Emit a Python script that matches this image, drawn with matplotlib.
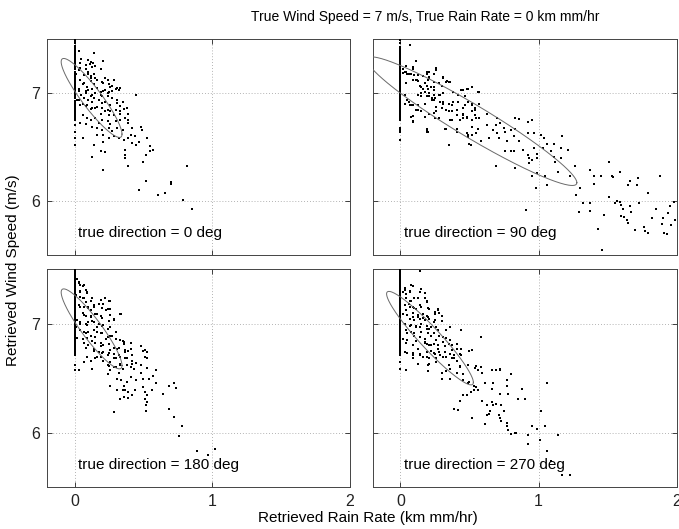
import numpy as np
import matplotlib
matplotlib.use("Agg")
import matplotlib.pyplot as plt

plt.rcParams['font.family'] = ['Liberation Sans', 'DejaVu Sans']

# ---------------- data ----------------
titles = ["true direction = 0 deg", "true direction = 90 deg",
          "true direction = 180 deg", "true direction = 270 deg"]

# retrievals with zero rain rate (x = 0)
p1_zero_y = [7.49, 7.475, 7.46, 7.44, 7.43, 7.41, 7.395, 7.38, 7.36, 7.35, 7.33, 7.315, 7.30, 7.28,
             7.27, 7.25, 7.235, 7.22, 7.20, 7.19, 7.17, 7.155, 7.14, 7.12, 7.11, 7.09, 7.075, 7.06,
             7.04, 7.03, 7.01, 6.995, 6.98, 6.96, 6.95, 6.93, 6.915, 6.90, 6.88, 6.87, 6.85, 6.835,
             6.82, 6.80, 6.79, 6.77, 6.755, 6.70, 6.64, 6.58, 6.52]
p2_zero_y = [7.49, 7.46, 7.43, 7.41, 7.395, 7.38, 7.365, 7.35, 7.335, 7.32, 7.30, 7.29, 7.27, 7.26,
             7.245, 7.23, 7.215, 7.20, 7.185, 7.17, 7.155, 7.14, 7.125, 7.11, 7.095, 7.08, 7.065,
             7.05, 7.035, 7.02, 7.005, 6.99, 6.975, 6.96, 6.945, 6.93, 6.915, 6.90, 6.885, 6.87,
             6.855, 6.84, 6.825, 6.81, 6.795, 6.78, 6.765, 6.75, 6.68, 6.66, 6.64, 6.57]
p3_zero_y = [7.50, 7.485, 7.47, 7.455, 7.44, 7.425, 7.41, 7.395, 7.38, 7.365, 7.35, 7.335, 7.32,
             7.305, 7.29, 7.275, 7.26, 7.245, 7.23, 7.215, 7.20, 7.185, 7.17, 7.155, 7.14, 7.125,
             7.11, 7.095, 7.08, 7.065, 7.05, 7.035, 7.02, 7.005, 6.99, 6.975, 6.96, 6.945, 6.93,
             6.915, 6.90, 6.885, 6.87, 6.855, 6.84, 6.825, 6.81, 6.795, 6.78, 6.765, 6.75, 6.735,
             6.72, 6.71, 6.62, 6.57]
p4_zero_y = [7.50, 7.485, 7.47, 7.455, 7.44, 7.425, 7.41, 7.395, 7.38, 7.365, 7.35, 7.335, 7.32,
             7.305, 7.29, 7.275, 7.26, 7.245, 7.23, 7.215, 7.20, 7.185, 7.17, 7.155, 7.14, 7.125,
             7.11, 7.095, 7.08, 7.065, 7.05, 7.035, 7.02, 7.005, 6.99, 6.975, 6.96, 6.945, 6.93,
             6.915, 6.90, 6.885, 6.87, 6.855, 6.84, 6.825, 6.81, 6.795, 6.78, 6.765, 6.75, 6.735,
             6.72, 6.71, 6.65, 6.58]

# retrievals with non-zero rain rate: (rain rate, wind speed)
p1_rain = [0.03, 0.14, 0.12, 0.135, 0.21, 0.04, 0.04, 0.08, 0.10, 0.07, 0.12, 0.15, 0.22, 0.24, 0.29,
           0.25, 0.26, 0.21, 0.12, 0.14, 0.16, 0.06, 0.03, 0.08, 0.10, 0.13, 0.15, 0.19, 0.21, 0.24,
           0.27, 0.31, 0.33, 0.45, 0.03, 0.07, 0.10, 0.13, 0.18, 0.20, 0.22, 0.26, 0.31, 0.33, 0.36,
           0.38, 0.04, 0.08, 0.12, 0.15, 0.19, 0.22, 0.25, 0.29, 0.33, 0.06, 0.09, 0.12, 0.15, 0.18,
           0.20, 0.24, 0.26, 0.30, 0.33, 0.37, 0.39, 0.04, 0.08, 0.13, 0.16, 0.20, 0.25, 0.27, 0.31,
           0.35, 0.39, 0.42, 0.48, 0.49, 0.06, 0.16, 0.21, 0.25, 0.29, 0.32, 0.36, 0.39, 0.41, 0.44,
           0.47, 0.53, 0.42, 0.45, 0.55, 0.14, 0.21, 0.37, 0.55, 0.57, 0.52, 0.50, 0.13, 0.19, 0.22,
           0.37, 0.37, 0.39, 0.21, 0.82, 0.52, 0.70, 0.70, 0.47, 0.61, 0.66, 0.79, 0.85]
p1_wind = [7.39, 7.37, 7.29, 7.28, 7.30, 7.28, 7.23, 7.22, 7.20, 7.17, 7.16, 7.14, 7.14, 7.12, 7.12,
           7.08, 7.06, 7.09, 7.11, 7.08, 7.05, 7.08, 7.02, 7.02, 7.03, 6.98, 7.00, 6.98, 7.02, 7.00,
           7.02, 7.05, 7.05, 6.98, 6.94, 6.95, 6.94, 6.92, 6.94, 6.91, 6.92, 6.89, 6.91, 6.88, 6.85,
           6.86, 6.89, 6.88, 6.85, 6.86, 6.81, 6.83, 6.80, 6.80, 6.81, 6.80, 6.77, 6.75, 6.77, 6.72,
           6.75, 6.74, 6.71, 6.74, 6.75, 6.77, 6.75, 6.72, 6.71, 6.69, 6.68, 6.66, 6.68, 6.65, 6.68,
           6.66, 6.72, 6.68, 6.69, 6.66, 6.58, 6.61, 6.61, 6.58, 6.60, 6.58, 6.57, 6.58, 6.61, 6.60,
           6.55, 6.58, 6.54, 6.52, 6.51, 6.52, 6.55, 6.47, 6.46, 6.47, 6.43, 6.36, 6.41, 6.46, 6.45,
           6.43, 6.40, 6.32, 6.29, 6.32, 6.19, 6.18, 6.16, 6.10, 6.06, 6.07, 6.01, 5.93]
p1_rain_b = [0.05, 0.10, 0.11, 0.08, 0.13, 0.15, 0.19, 0.03, 0.01, 0.10, 0.14, 0.12, 0.16, 0.20,
             0.27, 0.04, 0.07, 0.09, 0.13, 0.19, 0.22, 0.25, 0.30, 0.32, 0.03, 0.05, 0.08, 0.12,
             0.14, 0.18, 0.20, 0.24, 0.27, 0.31, 0.35, 0.02, 0.06, 0.09, 0.13, 0.16, 0.20, 0.24,
             0.26, 0.30, 0.33, 0.38, 0.39]
p1_wind_b = [7.32, 7.31, 7.27, 7.26, 7.24, 7.25, 7.22, 7.21, 7.18, 7.18, 7.18, 7.14, 7.12, 7.10,
             7.07, 7.12, 7.09, 7.06, 7.04, 7.01, 7.03, 7.01, 7.04, 7.03, 7.04, 6.98, 7.00, 6.97,
             6.95, 6.94, 6.97, 6.97, 6.95, 6.94, 6.92, 6.94, 6.90, 6.89, 6.86, 6.87, 6.86, 6.84,
             6.83, 6.84, 6.83, 6.86, 6.81]

p2_rain = [0.07, 0.11, 0.04, 0.09, 0.04, 0.02, 0.10, 0.05, 0.19, 0.21, 0.26, 0.16, 0.12, 0.09, 0.21,
           0.24, 0.20, 0.31, 0.33, 0.35, 0.30, 0.14, 0.19, 0.22, 0.16, 0.24, 0.18, 0.21, 0.13, 0.44,
           0.48, 0.52, 0.56, 0.15, 0.21, 0.25, 0.28, 0.42, 0.47, 0.05, 0.03, 0.07, 0.09, 0.24, 0.31,
           0.35, 0.38, 0.49, 0.57, 0.13, 0.26, 0.33, 0.37, 0.45, 0.52, 0.54, 0.41, 0.45, 0.54, 0.63,
           0.09, 0.09, 0.24, 0.28, 0.36, 0.43, 0.48, 0.52, 0.55, 0.70, 0.83, 0.86, 0.95, 0.19, 0.19,
           0.33, 0.41, 0.52, 0.56, 0.63, 0.69, 0.72, 0.75, 0.67, 0.70, 0.76, 0.80, 0.83, 0.92, 0.49,
           0.49, 0.50, 0.35, 0.55, 0.58, 0.64, 0.71, 0.77, 0.82, 0.86, 0.92, 0.97, 1.02, 1.04, 0.76,
           0.80, 0.82, 0.89, 0.97, 0.99, 1.03, 1.09, 1.16, 1.17, 1.11, 1.06, 0.69, 0.83, 0.92, 0.93,
           0.95, 0.99, 0.93, 0.95, 0.98, 1.05, 1.06, 1.11, 1.12, 1.14, 1.16, 1.21, 1.23, 1.26, 1.30,
           1.27, 1.29, 1.32, 1.37, 1.37, 1.37, 1.40, 1.40, 1.43, 1.45, 1.47, 1.46, 1.51, 1.53, 1.54,
           1.51, 1.55, 1.57, 1.59, 1.60, 1.59, 1.61, 1.60, 1.62, 1.64, 1.65, 1.65, 1.66, 1.66, 1.67,
           1.70, 1.71, 1.72, 1.73, 1.76, 1.77, 1.79, 1.79, 1.82, 1.85, 1.88, 1.89, 1.90, 1.91, 1.93,
           1.94, 1.95, 1.96, 1.98, 1.99, 0.91, 0.99]
p2_wind = [7.45, 7.30, 7.25, 7.22, 7.20, 7.19, 7.17, 7.18, 7.18, 7.20, 7.21, 7.16, 7.12, 7.12, 7.14,
           7.10, 7.12, 7.14, 7.10, 7.10, 7.07, 7.07, 7.07, 7.06, 7.04, 7.03, 7.01, 7.00, 6.98, 7.03,
           7.04, 7.06, 7.01, 6.97, 6.97, 6.95, 6.98, 6.98, 6.97, 6.94, 6.90, 6.89, 6.89, 6.94, 6.92,
           6.90, 6.92, 6.92, 6.90, 6.84, 6.87, 6.84, 6.83, 6.86, 6.89, 6.84, 6.80, 6.80, 6.80, 6.81,
           6.79, 6.73, 6.82, 6.77, 6.75, 6.75, 6.77, 6.75, 6.77, 6.77, 6.77, 6.76, 6.75, 6.67, 6.64,
           6.67, 6.67, 6.69, 6.67, 6.70, 6.70, 6.72, 6.68, 6.66, 6.63, 6.64, 6.66, 6.67, 6.73, 6.61,
           6.59, 6.53, 6.52, 6.63, 6.56, 6.58, 6.58, 6.56, 6.60, 6.56, 6.63, 6.63, 6.61, 6.58, 6.46,
           6.46, 6.46, 6.47, 6.49, 6.44, 6.49, 6.46, 6.49, 6.60, 6.53, 6.53, 6.32, 6.31, 6.43, 6.40,
           6.38, 6.40, 6.35, 6.23, 6.12, 6.23, 6.15, 6.41, 6.36, 6.27, 6.40, 6.47, 6.23, 6.32, 6.12,
           6.06, 5.90, 5.98, 6.29, 5.98, 5.91, 6.23, 6.16, 5.74, 6.23, 5.87, 5.55, 6.36, 6.23, 6.22,
           6.04, 5.98, 6.00, 5.99, 5.96, 6.27, 5.93, 5.86, 5.85, 5.82, 5.80, 6.15, 6.19, 5.95, 5.90,
           5.73, 6.15, 6.21, 5.98, 5.76, 5.72, 5.70, 6.07, 5.84, 5.93, 6.23, 5.79, 5.84, 5.70, 5.69,
           5.89, 5.95, 5.78, 5.99, 5.82, 5.92, 6.26]
p2_rain_b = [0.09, 0.03, 0.06, 0.02, 0.08, 0.13, 0.19, 0.24, 0.21, 0.26, 0.11, 0.04, 0.13, 0.18,
             0.15, 0.20, 0.24, 0.28, 0.31, 0.34, 0.36, 0.15, 0.18, 0.21, 0.24, 0.19, 0.23, 0.29,
             0.31, 0.38, 0.45, 0.49, 0.57, 0.03, 0.06, 0.08, 0.13, 0.18, 0.23, 0.29, 0.31, 0.37,
             0.42, 0.47, 0.52, 0.54, 0.11, 0.15, 0.21, 0.26, 0.30, 0.35, 0.41, 0.45, 0.52, 0.08,
             0.18, 0.25, 0.37, 0.45, 0.48, 0.57, 0.09, 0.19, 0.20, 0.32, 0.41, 0.48, 0.52, 0.35,
             0.51]
p2_wind_b = [7.24, 7.20, 7.18, 7.22, 7.18, 7.17, 7.20, 7.18, 7.15, 7.23, 7.12, 7.09, 7.11, 7.09,
             7.06, 7.04, 7.06, 7.09, 7.15, 7.11, 7.10, 7.00, 7.01, 7.00, 6.98, 6.97, 6.95, 6.98,
             7.00, 7.01, 7.03, 7.04, 7.01, 6.98, 6.92, 6.89, 6.89, 6.90, 6.94, 6.92, 6.90, 6.89,
             6.92, 6.89, 6.90, 6.86, 6.84, 6.83, 6.81, 6.83, 6.86, 6.83, 6.84, 6.81, 6.83, 6.78,
             6.78, 6.77, 6.75, 6.77, 6.78, 6.77, 6.74, 6.66, 6.64, 6.67, 6.64, 6.63, 6.61, 6.52,
             6.52]

p3_rain = [0.02, 0.03, 0.04, 0.06, 0.08, 0.09, 0.04, 0.01, 0.04, 0.07, 0.13, 0.19, 0.22, 0.26, 0.14,
           0.18, 0.20, 0.24, 0.26, 0.03, 0.07, 0.10, 0.12, 0.06, 0.08, 0.12, 0.15, 0.19, 0.29, 0.34,
           0.02, 0.04, 0.08, 0.10, 0.14, 0.18, 0.20, 0.24, 0.26, 0.01, 0.04, 0.07, 0.10, 0.14, 0.16,
           0.20, 0.24, 0.27, 0.30, 0.02, 0.06, 0.09, 0.13, 0.15, 0.19, 0.21, 0.25, 0.29, 0.32, 0.35,
           0.36, 0.41, 0.48, 0.50, 0.53, 0.08, 0.10, 0.14, 0.18, 0.20, 0.25, 0.29, 0.32, 0.37, 0.39,
           0.42, 0.51, 0.07, 0.12, 0.16, 0.21, 0.26, 0.30, 0.33, 0.37, 0.38, 0.42, 0.45, 0.03, 0.13,
           0.24, 0.26, 0.30, 0.32, 0.35, 0.43, 0.48, 0.53, 0.59, 0.25, 0.31, 0.34, 0.38, 0.41, 0.45,
           0.50, 0.54, 0.57, 0.59, 0.26, 0.36, 0.31, 0.35, 0.37, 0.39, 0.44, 0.50, 0.51, 0.53, 0.56,
           0.64, 0.69, 0.72, 0.74, 0.33, 0.36, 0.39, 0.42, 0.51, 0.53, 0.52, 0.52, 0.29, 0.69, 0.72,
           0.78, 0.76, 0.89, 0.97, 1.02]
p3_wind = [7.41, 7.38, 7.35, 7.34, 7.31, 7.29, 7.30, 7.26, 7.24, 7.23, 7.23, 7.22, 7.23, 7.21, 7.17,
           7.18, 7.14, 7.13, 7.13, 7.17, 7.15, 7.15, 7.12, 7.10, 7.07, 7.07, 7.09, 7.07, 7.04, 7.09,
           7.03, 7.01, 7.00, 7.01, 7.01, 7.00, 6.98, 6.95, 6.97, 6.97, 6.94, 6.92, 6.92, 6.94, 6.92,
           6.91, 6.88, 6.89, 6.86, 6.87, 6.86, 6.87, 6.84, 6.82, 6.82, 6.80, 6.81, 6.78, 6.78, 6.84,
           6.81, 6.82, 6.79, 6.75, 6.74, 6.78, 6.80, 6.75, 6.74, 6.73, 6.73, 6.72, 6.71, 6.74, 6.75,
           6.71, 6.69, 6.65, 6.66, 6.69, 6.66, 6.65, 6.68, 6.63, 6.68, 6.62, 6.63, 6.64, 6.57, 6.58,
           6.54, 6.57, 6.60, 6.55, 6.58, 6.58, 6.55, 6.59, 6.57, 6.61, 6.49, 6.48, 6.46, 6.51, 6.48,
           6.49, 6.49, 6.52, 6.45, 6.43, 6.43, 6.39, 6.39, 6.39, 6.37, 6.39, 6.42, 6.37, 6.34, 6.39,
           6.35, 6.43, 6.45, 6.41, 6.31, 6.33, 6.32, 6.34, 6.31, 6.28, 6.25, 6.20, 6.19, 6.22, 6.14,
           6.06, 5.97, 5.83, 5.79, 5.85]
p3_rain_b = [0.03, 0.07, 0.04, 0.09, 0.06, 0.08, 0.12, 0.04, 0.10, 0.14, 0.21, 0.25, 0.07, 0.12,
             0.16, 0.20, 0.23, 0.26, 0.04, 0.09, 0.13, 0.16, 0.21, 0.25, 0.29, 0.33, 0.08, 0.12,
             0.15, 0.19, 0.23, 0.26, 0.30, 0.33, 0.36, 0.41, 0.07, 0.10, 0.14, 0.19, 0.21, 0.26,
             0.31, 0.37, 0.41, 0.48, 0.09, 0.15, 0.19, 0.24, 0.29, 0.33, 0.38, 0.42, 0.51, 0.24,
             0.29, 0.33, 0.41, 0.48, 0.53]
p3_wind_b = [7.37, 7.35, 7.29, 7.28, 7.23, 7.20, 7.21, 7.15, 7.14, 7.15, 7.18, 7.21, 7.08, 7.06,
             7.09, 7.05, 7.12, 7.08, 7.00, 6.99, 7.02, 6.97, 6.99, 7.02, 7.03, 7.09, 6.91, 6.89,
             6.88, 6.91, 6.86, 6.89, 6.92, 6.85, 6.83, 6.82, 6.82, 6.80, 6.77, 6.79, 6.74, 6.76,
             6.77, 6.76, 6.77, 6.79, 6.69, 6.68, 6.69, 6.71, 6.68, 6.69, 6.68, 6.66, 6.76, 6.62,
             6.60, 6.62, 6.60, 6.62, 6.68]

p4_rain = [0.14, 0.03, 0.08, 0.09, 0.07, 0.04, 0.02, 0.14, 0.18, 0.19, 0.10, 0.04, 0.07, 0.06, 0.03,
           0.09, 0.11, 0.15, 0.21, 0.27, 0.28, 0.30, 0.25, 0.16, 0.19, 0.09, 0.04, 0.02, 0.13, 0.07,
           0.10, 0.14, 0.18, 0.21, 0.24, 0.03, 0.07, 0.11, 0.14, 0.19, 0.21, 0.26, 0.36, 0.44, 0.04,
           0.08, 0.10, 0.15, 0.20, 0.24, 0.28, 0.33, 0.58, 0.02, 0.05, 0.11, 0.18, 0.19, 0.21, 0.24,
           0.27, 0.31, 0.35, 0.37, 0.41, 0.44, 0.50, 0.03, 0.05, 0.09, 0.14, 0.19, 0.22, 0.25, 0.28,
           0.32, 0.36, 0.39, 0.43, 0.09, 0.16, 0.21, 0.26, 0.31, 0.37, 0.41, 0.21, 0.43, 0.55, 0.58,
           0.56, 0.69, 0.72, 0.04, 0.20, 0.30, 0.33, 0.36, 0.41, 0.45, 0.59, 0.80, 0.30, 0.36, 0.45,
           0.49, 0.50, 0.53, 0.55, 0.53, 0.56, 0.61, 0.66, 0.67, 0.77, 0.77, 0.72, 0.78, 0.85, 0.88,
           0.90, 1.06, 0.43, 0.45, 0.48, 0.51, 0.39, 0.42, 0.52, 0.59, 0.63, 0.66, 0.67, 0.69, 0.63,
           0.64, 0.65, 0.61, 0.71, 0.72, 0.73, 0.73, 0.75, 0.77, 0.78, 0.80, 0.83, 0.84, 0.77, 0.92,
           0.92, 0.95, 0.99, 1.02, 1.01, 1.05, 1.06, 1.09, 1.14, 1.17, 1.23]
p4_wind = [7.48, 7.33, 7.35, 7.34, 7.30, 7.27, 7.29, 7.29, 7.23, 7.21, 7.23, 7.23, 7.21, 7.18, 7.17,
           7.15, 7.13, 7.15, 7.13, 7.13, 7.10, 7.07, 7.09, 7.09, 7.07, 7.10, 7.12, 7.09, 7.06, 7.04,
           7.03, 7.04, 7.03, 7.04, 7.01, 7.00, 6.98, 6.98, 6.97, 6.98, 6.95, 6.97, 6.97, 6.94, 6.94,
           6.92, 6.91, 6.92, 6.91, 6.91, 6.89, 6.87, 6.88, 6.86, 6.85, 6.84, 6.83, 6.81, 6.80, 6.81,
           6.80, 6.83, 6.81, 6.80, 6.81, 6.77, 6.75, 6.74, 6.73, 6.71, 6.72, 6.74, 6.75, 6.72, 6.74,
           6.74, 6.72, 6.71, 6.72, 6.68, 6.69, 6.68, 6.68, 6.69, 6.68, 6.66, 6.63, 6.61, 6.61, 6.60,
           6.57, 6.57, 6.58, 6.57, 6.56, 6.55, 6.56, 6.58, 6.55, 6.54, 6.55, 6.54, 6.49, 6.49, 6.48,
           6.45, 6.46, 6.43, 6.42, 6.39, 6.39, 6.45, 6.40, 6.45, 6.48, 6.43, 6.35, 6.35, 6.31, 6.40,
           6.31, 6.45, 6.29, 6.34, 6.34, 6.37, 6.22, 6.21, 6.13, 6.29, 6.25, 6.28, 6.25, 6.26, 6.16,
           6.17, 6.20, 6.08, 6.16, 6.13, 6.11, 6.25, 6.20, 6.09, 6.02, 5.99, 6.00, 6.00, 6.06, 5.98,
           5.89, 6.06, 6.03, 6.20, 5.93, 6.06, 5.83, 5.74, 5.98, 5.61, 5.61]
p4_rain_b = [0.03, 0.07, 0.09, 0.15, 0.18, 0.04, 0.08, 0.13, 0.19, 0.03, 0.07, 0.10, 0.14, 0.20,
             0.25, 0.27, 0.05, 0.09, 0.13, 0.16, 0.20, 0.25, 0.30, 0.03, 0.08, 0.11, 0.15, 0.19,
             0.22, 0.27, 0.33, 0.05, 0.10, 0.14, 0.18, 0.22, 0.26, 0.31, 0.36, 0.04, 0.09, 0.13,
             0.18, 0.22, 0.27, 0.32, 0.37, 0.41, 0.09, 0.14, 0.19, 0.24, 0.29, 0.33, 0.39, 0.44,
             0.52, 0.13, 0.20, 0.26, 0.35, 0.43, 0.49, 0.54, 0.66, 0.72]
p4_wind_b = [7.31, 7.29, 7.34, 7.32, 7.28, 7.23, 7.21, 7.23, 7.20, 7.17, 7.15, 7.14, 7.17, 7.14,
             7.11, 7.12, 7.08, 7.06, 7.08, 7.05, 7.06, 7.03, 7.02, 7.00, 6.99, 6.97, 7.00, 6.95,
             6.97, 6.94, 6.94, 6.91, 6.89, 6.88, 6.86, 6.89, 6.85, 6.88, 6.85, 6.82, 6.80, 6.77,
             6.82, 6.80, 6.77, 6.79, 6.76, 6.77, 6.73, 6.71, 6.69, 6.73, 6.71, 6.69, 6.68, 6.71,
             6.76, 6.63, 6.62, 6.65, 6.62, 6.60, 6.62, 6.59, 6.57, 6.57]

# error ellipses: centre, half extents in x and y, correlation
ell_cx = [0.124, 0.517, 0.124, 0.214]
ell_cy = [6.955, 6.740, 6.951, 6.866]
ell_rx = [0.221, 0.760, 0.221, 0.314]
ell_ry = [0.366, 0.596, 0.367, 0.429]
ell_rho = [-0.915, -0.956, -0.915, -0.946]

xticks = [0, 1, 2]
yticks = [6, 7]

zero_sets = [p1_zero_y, p2_zero_y, p3_zero_y, p4_zero_y]
rain_sets = [p1_rain + p1_rain_b, p2_rain + p2_rain_b, p3_rain + p3_rain_b, p4_rain + p4_rain_b]
wind_sets = [p1_wind + p1_wind_b, p2_wind + p2_wind_b, p3_wind + p3_wind_b, p4_wind + p4_wind_b]

# ---------------- figure ----------------
fig = plt.figure(figsize=(6.79, 5.29), dpi=100)
positions = [
    [0.0692, 0.518, 0.446, 0.408],
    [0.549, 0.518, 0.4477, 0.408],
    [0.0692, 0.0794, 0.446, 0.412],
    [0.549, 0.0794, 0.4477, 0.412],
]

t = np.linspace(0, 2 * np.pi, 300)
for i, pos in enumerate(positions):
    ax = fig.add_axes(pos)
    ax.set_xlim(-0.2, 2)
    ax.set_ylim(5.5, 7.5)
    ax.set_xticks(xticks)
    ax.set_yticks(yticks)
    ax.grid(True, linestyle=(0, (1, 2.5)), color='#9a9a9a', linewidth=0.6)
    ax.set_axisbelow(True)
    ax.tick_params(direction='in', length=3.5, width=0.6, top=True, right=True,
                   labelsize=11.5, pad=5, colors='#222222')
    for sp in ax.spines.values():
        sp.set_color('#444444')
        sp.set_linewidth(0.7)
    if i < 2:
        ax.set_xticklabels([])
    if i % 2 == 1:
        ax.set_yticklabels([])

    zx = [0.0] * len(zero_sets[i])
    ax.scatter(zx, zero_sets[i], s=4.0, marker='s', color='black', linewidths=0, zorder=3)
    ax.scatter(rain_sets[i], wind_sets[i], s=3.2, marker='s', color='black', linewidths=0,
               zorder=3)

    rho = ell_rho[i]
    ex = ell_cx[i] + ell_rx[i] * np.cos(t)
    ey = ell_cy[i] + ell_ry[i] * (rho * np.cos(t) + np.sqrt(1 - rho ** 2) * np.sin(t))
    ax.plot(ex, ey, color='#6a6a6a', linewidth=0.7, zorder=4)

    ax.text(0.025, 5.70, titles[i], fontsize=11, ha='left', va='center', zorder=5)

fig.text(0.626, 0.968, "True Wind Speed = 7 m/s, True Rain Rate = 0 km mm/hr",
         ha='center', va='center', fontsize=10)
fig.text(0.542, 0.021, "Retrieved Rain Rate (km mm/hr)", ha='center', va='center', fontsize=11)
fig.text(0.019, 0.49, "Retrieved Wind Speed (m/s)", ha='center', va='center', fontsize=11,
         rotation=90)

fig.savefig("out.png", dpi=100)
